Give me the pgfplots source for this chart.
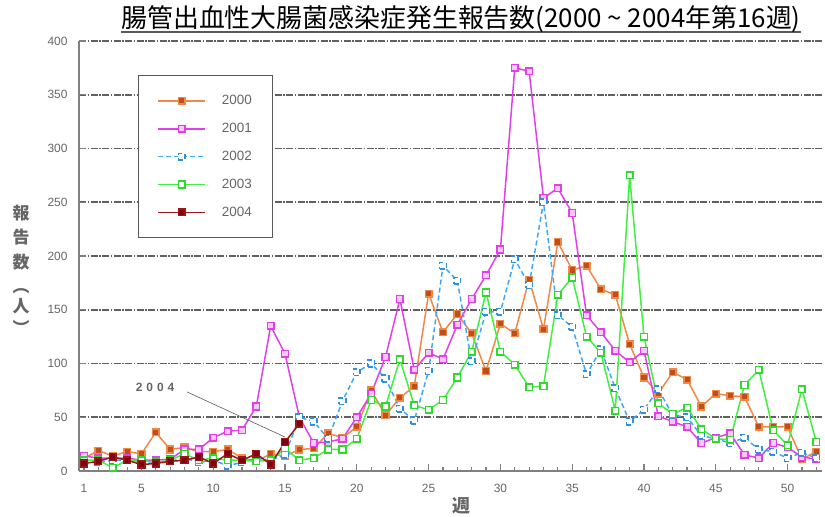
\documentclass[border=0pt]{standalone}
\usepackage{fontspec}
\setmainfont{Liberation Sans}
\newfontfamily\jp{Noto Sans CJK JP}
\usepackage{pgfplots}
\pgfplotsset{compat=1.18}

\definecolor{lAA}{HTML}{F08848}
\definecolor{mAA}{HTML}{C04E18}
\definecolor{lAB}{HTML}{E040E8}
\definecolor{mAB}{HTML}{F8C8F8}
\definecolor{lAC}{HTML}{40A8F8}
\definecolor{mAC}{HTML}{3090E0}
\definecolor{lAD}{HTML}{40F040}
\definecolor{mAD}{HTML}{30D830}
\definecolor{lAE}{HTML}{981818}
\definecolor{mAE}{HTML}{800010}
\definecolor{gridc}{HTML}{606060}
\definecolor{txtc}{HTML}{666666}

\begin{document}
\begin{tikzpicture}[x=1bp,y=1bp]
\useasboundingbox (0,0) rectangle (825,517);

% title
\node[anchor=base, font=\jp\fontsize{26}{28}\selectfont, inner sep=0pt] (t) at (461,489)
  {腸管出血性大腸菌感染症発生報告数(2000 {\char"007E} 2004年第16週)};
\draw[line width=1.3bp] (t.base west) ++(0,-4) -- ([yshift=-4bp]t.base east);

% y label (vertical)
\begin{scope}[every node/.style={font=\jp\bfseries\fontsize{17}{17}\selectfont, text=txtc, inner sep=0pt}]
\node at (21,304) {報};
\node at (21,280) {告};
\node at (21,255) {数};
\node at (21,226) {︵};
\node at (21,211) {人};
\node at (21,190) {︶};
\end{scope}
\node[font=\jp\bfseries\fontsize{18}{18}\selectfont, text=txtc, inner sep=0pt] at (461,11) {週};

\begin{axis}[
    at={(79bp,46bp)}, anchor=south west,
    scale only axis, width=743bp, height=430bp,
    xmin=0.65, xmax=52.4, ymin=0, ymax=400,
    axis lines*=left,
    axis line style={draw=gray, line width=1.4bp, -},
    tick align=inside,
    xtick={1,5,10,15,20,25,30,35,40,45,50},
    minor xtick={1,...,52},
    ytick={0,50,...,400},
    major tick length=7bp, minor tick length=4bp,
    every tick/.style={draw=gray, line width=1.2bp},
    tick label style={font=\fontsize{12}{13}\selectfont, text=txtc},
    /pgf/number format/assume math mode=true,
    yticklabel style={xshift=-8bp},
    xticklabel style={yshift=-10bp},
    ymajorgrids,
    grid style={draw=gridc, line width=1.6bp, dash pattern=on 7bp off 1.5bp on 1.5bp off 1.5bp},
    legend style={at={(0.0794,0.921)}, anchor=north west, draw=gray!70!black, line width=1bp,
        fill=white, font=\fontsize{13.5}{14}\selectfont, text=txtc,
        inner xsep=19bp, inner ysep=18bp, row sep=13bp},
    legend cell align=left,
    legend image code/.code={\draw[line width=1.5bp, mark repeat=2,mark phase=2,#1] plot coordinates {(0bp,0bp) (23.5bp,0bp) (47bp,0bp)};
        \path (0bp,-5bp) (61bp,5bp);},
    every axis plot/.append style={line width=1.5bp, mark=square*, mark size=3.3bp, mark options={solid, line width=1bp}},
]

% 2000
\addplot[color=lAA, mark options={draw=lAA, fill=mAA}] coordinates {
 (1,12) (2,19) (3,14) (4,18) (5,16) (6,36) (7,20) (8,22) (9,18) (10,18)
 (11,20) (12,12) (13,9) (14,16) (15,14) (16,20) (17,21) (18,35) (19,31) (20,41)
 (21,75) (22,52) (23,68) (24,79) (25,165) (26,129) (27,146) (28,128) (29,93) (30,137)
 (31,128) (32,178) (33,132) (34,213) (35,187) (36,191) (37,169) (38,164) (39,118) (40,87)
 (41,72) (42,92) (43,85) (44,60) (45,72) (46,70) (47,69) (48,41) (49,41) (50,41)
 (51,11) (52,18)
};

% 2001
\addplot[color=lAB, mark options={draw=lAB, fill=mAB}] coordinates {
 (1,14) (2,12) (3,12) (4,12) (5,10) (6,10) (7,11) (8,20) (9,20) (10,31)
 (11,37) (12,38) (13,60) (14,135) (15,109) (16,50) (17,26) (18,27) (19,30) (20,50)
 (21,72) (22,106) (23,160) (24,94) (25,110) (26,104) (27,136) (28,160) (29,182) (30,206)
 (31,375) (32,372) (33,254) (34,263) (35,240) (36,145) (37,129) (38,112) (39,101) (40,112)
 (41,51) (42,46) (43,41) (44,26) (45,31) (46,35) (47,15) (48,12) (49,26) (50,22)
 (51,13) (52,11)
};

% 2002
\addplot[color=lAC, dash pattern=on 5bp off 3bp, mark options={draw=mAC, fill=white}] coordinates {
 (1,8) (2,8) (3,10) (4,10) (5,9) (6,8) (7,9) (8,12) (9,8) (10,10)
 (11,5) (12,8) (13,12) (14,10) (15,15) (16,50) (17,46) (18,30) (19,65) (20,92)
 (21,100) (22,86) (23,58) (24,47) (25,93) (26,191) (27,177) (28,102) (29,148) (30,148)
 (31,197) (32,173) (33,250) (34,145) (35,134) (36,90) (37,113) (38,77) (39,46) (40,57)
 (41,76) (42,52) (43,50) (44,33) (45,30) (46,26) (47,31) (48,20) (49,18) (50,12)
 (51,17) (52,12)
};

% 2003
\addplot[color=lAD, mark options={draw=mAD, fill=white}] coordinates {
 (1,10) (2,10) (3,3) (4,10) (5,10) (6,8) (7,10) (8,16) (9,10) (10,12)
 (11,10) (12,10) (13,9) (14,10) (15,21) (16,10) (17,12) (18,20) (19,20) (20,30)
 (21,66) (22,60) (23,104) (24,61) (25,57) (26,66) (27,87) (28,111) (29,166) (30,111)
 (31,99) (32,78) (33,79) (34,164) (35,180) (36,125) (37,110) (38,56) (39,275) (40,125)
 (41,63) (42,53) (43,59) (44,39) (45,30) (46,29) (47,80) (48,94) (49,38) (50,24)
 (51,76) (52,27)
};

% 2004
\addplot[color=lAE, mark options={draw=lAE, fill=mAE}] coordinates {
 (1,7) (2,9) (3,13) (4,10) (5,6) (6,7) (7,9) (8,10) (9,13) (10,7)
 (11,16) (12,10) (13,16) (14,6) (15,27) (16,44)
};

\legend{2000, 2001, 2002, 2003, 2004}

\draw[gray!70!black, line width=0.6bp] (axis cs:8.18,73.5) -- (axis cs:15,31.6);
\node[font=\bfseries\fontsize{12}{12}\selectfont, text=txtc] at (axis cs:5.95,78) {2\hspace{4bp}0\hspace{4bp}0\hspace{4bp}4};
\end{axis}
\end{tikzpicture}
\end{document}
